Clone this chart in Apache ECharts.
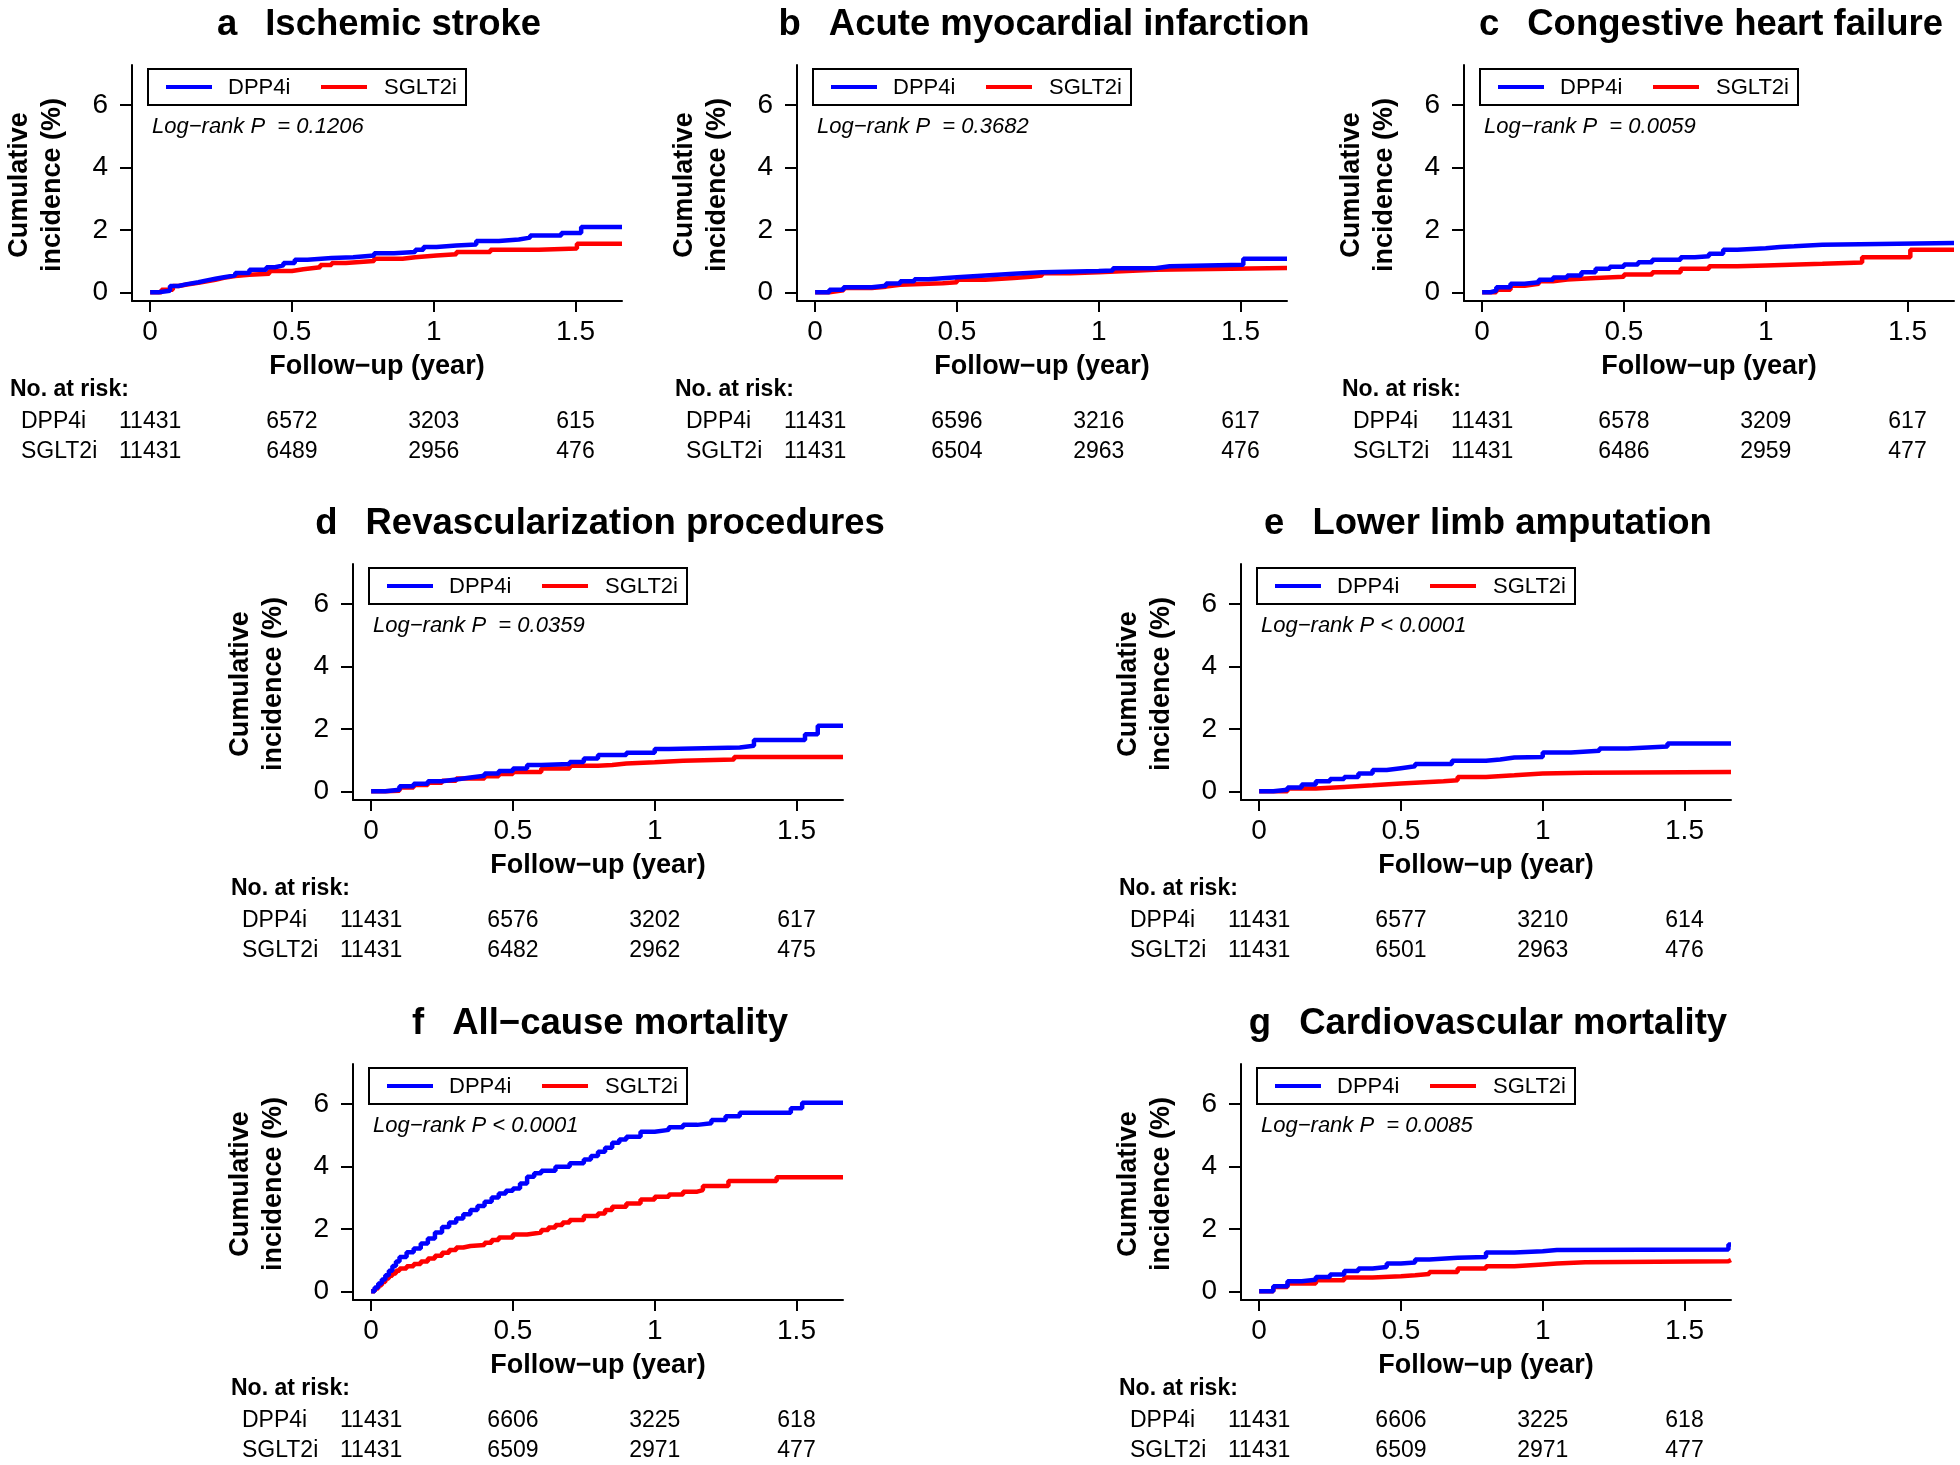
<!DOCTYPE html>
<html><head><meta charset="utf-8">
<script src="https://cdn.jsdelivr.net/npm/echarts@6/dist/echarts.min.js"></script>
<style>html,body{margin:0;padding:0;background:#fff}#c{width:1960px;height:1465px}</style>
</head><body><div id="c"></div>
<script>
// ---------------- data ----------------
const xTicks = [0, 0.5, 1, 1.5];
const yTicks = [0, 2, 4, 6];
const groups = ['DPP4i', 'SGLT2i'];
const letters = ['a', 'b', 'c', 'd', 'e', 'f', 'g'];
const outcomes = ['Ischemic stroke', 'Acute myocardial infarction', 'Congestive heart failure',
  'Revascularization procedures', 'Lower limb amputation', 'All\u2212cause mortality', 'Cardiovascular mortality'];
const logRank = ['Log\u2212rank P  = 0.1206', 'Log\u2212rank P  = 0.3682', 'Log\u2212rank P  = 0.0059',
  'Log\u2212rank P  = 0.0359', 'Log\u2212rank P < 0.0001', 'Log\u2212rank P < 0.0001', 'Log\u2212rank P  = 0.0085'];
const riskDPP4i = [[11431, 6572, 3203, 615], [11431, 6596, 3216, 617], [11431, 6578, 3209, 617],
  [11431, 6576, 3202, 617], [11431, 6577, 3210, 614], [11431, 6606, 3225, 618], [11431, 6606, 3225, 618]];
const riskSGLT2i = [[11431, 6489, 2956, 476], [11431, 6504, 2963, 476], [11431, 6486, 2959, 477],
  [11431, 6482, 2962, 475], [11431, 6501, 2963, 476], [11431, 6509, 2971, 477], [11431, 6509, 2971, 477]];

const strokeDPP4i = [[0,0],[0.03,0.05],[0.07,0.2],[0.1,0.26],[0.13,0.32],[0.17,0.38],[0.2,0.43],[0.23,0.48],[0.26,0.54],[0.3,0.62],[0.35,0.72],[0.41,0.8],[0.44,0.86],[0.47,0.94],[0.51,1.04],[0.555,1.1],[0.64,1.12],[0.716,1.18],[0.79,1.25],[0.86,1.29],[0.935,1.36],[0.964,1.45],[1.01,1.5],[1.08,1.53],[1.15,1.64],[1.23,1.69],[1.3,1.75],[1.34,1.82],[1.45,1.9],[1.52,2.09],[1.664,2.09]];
const strokeSGLT2i = [[0,0],[0.04,0.08],[0.08,0.2],[0.1,0.25],[0.13,0.3],[0.17,0.35],[0.2,0.4],[0.23,0.46],[0.26,0.52],[0.3,0.56],[0.35,0.59],[0.42,0.68],[0.5,0.74],[0.54,0.8],[0.6,0.87],[0.64,0.94],[0.69,1.0],[0.79,1.07],[0.89,1.12],[0.935,1.18],[1.01,1.22],[1.08,1.29],[1.2,1.36],[1.37,1.4],[1.505,1.55],[1.664,1.55]];
const amiDPP4i = [[0,0],[0.05,0.08],[0.1,0.16],[0.2,0.21],[0.25,0.28],[0.3,0.35],[0.35,0.42],[0.4,0.48],[0.5,0.54],[0.6,0.59],[0.7,0.64],[0.8,0.68],[1.0,0.7],[1.05,0.77],[1.2,0.83],[1.25,0.88],[1.51,1.07],[1.664,1.07]];
const amiSGLT2i = [[0,0],[0.05,0.06],[0.1,0.14],[0.2,0.18],[0.25,0.24],[0.3,0.29],[0.45,0.32],[0.5,0.4],[0.6,0.46],[0.7,0.5],[0.76,0.54],[0.8,0.61],[0.9,0.64],[1.0,0.68],[1.1,0.72],[1.2,0.78],[1.664,0.78]];
const chfDPP4i = [[0,0],[0.03,0.05],[0.05,0.16],[0.1,0.27],[0.15,0.32],[0.2,0.4],[0.25,0.47],[0.3,0.54],[0.35,0.64],[0.4,0.75],[0.45,0.82],[0.5,0.89],[0.55,0.96],[0.6,1.04],[0.7,1.12],[0.75,1.15],[0.8,1.23],[0.85,1.36],[0.9,1.41],[1.0,1.45],[1.05,1.47],[1.1,1.52],[1.2,1.58],[1.664,1.58]];
const chfSGLT2i = [[0,0],[0.05,0.08],[0.1,0.21],[0.15,0.27],[0.2,0.35],[0.25,0.41],[0.3,0.46],[0.4,0.5],[0.5,0.57],[0.6,0.64],[0.7,0.75],[0.8,0.83],[0.9,0.86],[1.0,0.91],[1.2,0.95],[1.34,1.12],[1.51,1.36],[1.664,1.36]];
const revascDPP4i = [[0,0],[0.05,0.05],[0.1,0.16],[0.15,0.24],[0.2,0.32],[0.25,0.38],[0.3,0.44],[0.35,0.5],[0.4,0.57],[0.45,0.65],[0.5,0.73],[0.55,0.84],[0.6,0.87],[0.7,0.94],[0.75,1.05],[0.8,1.16],[0.9,1.23],[1.0,1.35],[1.05,1.4],[1.3,1.46],[1.35,1.64],[1.53,1.83],[1.575,2.1],[1.664,2.1]];
const revascSGLT2i = [[0,0],[0.05,0.02],[0.1,0.12],[0.15,0.2],[0.2,0.27],[0.25,0.34],[0.3,0.41],[0.4,0.48],[0.45,0.55],[0.5,0.62],[0.6,0.73],[0.7,0.82],[0.8,0.84],[0.85,0.89],[0.9,0.93],[1.0,0.98],[1.1,1.02],[1.28,1.1],[1.664,1.1]];
const lleaDPP4i = [[0,0],[0.05,0.05],[0.1,0.12],[0.15,0.22],[0.2,0.32],[0.25,0.39],[0.3,0.46],[0.35,0.57],[0.4,0.68],[0.45,0.74],[0.5,0.8],[0.55,0.87],[0.68,0.98],[0.8,1.02],[0.85,1.08],[0.9,1.1],[1.0,1.24],[1.1,1.3],[1.2,1.37],[1.3,1.43],[1.44,1.53],[1.664,1.53]];
const lleaSGLT2i = [[0,0],[0.1,0.09],[0.2,0.14],[0.3,0.19],[0.4,0.25],[0.5,0.3],[0.6,0.32],[0.65,0.35],[0.7,0.46],[0.8,0.51],[0.9,0.57],[1.0,0.59],[1.15,0.62],[1.664,0.62]];
const acmDPP4i = [[0,0],[0.0125,0.12],[0.025,0.25],[0.0375,0.38],[0.05,0.51],[0.0625,0.66],[0.075,0.81],[0.0875,0.95],[0.1,1.1],[0.125,1.25],[0.15,1.37],[0.175,1.53],[0.2,1.69],[0.225,1.88],[0.25,2.06],[0.275,2.2],[0.3,2.33],[0.325,2.47],[0.35,2.6],[0.375,2.73],[0.4,2.87],[0.425,3.0],[0.45,3.13],[0.475,3.22],[0.5,3.29],[0.525,3.45],[0.55,3.67],[0.575,3.78],[0.6,3.86],[0.65,3.99],[0.7,4.1],[0.75,4.22],[0.775,4.33],[0.8,4.47],[0.825,4.6],[0.85,4.76],[0.875,4.86],[0.9,4.95],[0.95,5.11],[1.0,5.17],[1.05,5.25],[1.1,5.33],[1.15,5.38],[1.2,5.49],[1.25,5.61],[1.3,5.72],[1.48,5.86],[1.52,6.04],[1.664,6.04]];
const acmSGLT2i = [[0,0],[0.0125,0.09],[0.025,0.19],[0.0375,0.3],[0.05,0.41],[0.0625,0.5],[0.075,0.57],[0.0875,0.66],[0.1,0.73],[0.125,0.8],[0.15,0.87],[0.175,0.95],[0.2,1.05],[0.225,1.14],[0.25,1.23],[0.275,1.32],[0.3,1.4],[0.325,1.45],[0.35,1.48],[0.4,1.55],[0.425,1.64],[0.45,1.72],[0.5,1.82],[0.55,1.88],[0.6,1.96],[0.625,2.04],[0.65,2.12],[0.675,2.2],[0.7,2.28],[0.75,2.41],[0.8,2.49],[0.825,2.6],[0.85,2.71],[0.9,2.81],[0.95,2.94],[1.0,3.03],[1.05,3.1],[1.1,3.19],[1.15,3.24],[1.17,3.37],[1.26,3.53],[1.43,3.65],[1.664,3.65]];
const cvmDPP4i = [[0,0],[0.05,0.16],[0.1,0.32],[0.15,0.37],[0.2,0.46],[0.25,0.54],[0.3,0.65],[0.35,0.73],[0.4,0.78],[0.45,0.89],[0.5,0.92],[0.55,1.02],[0.6,1.07],[0.7,1.1],[0.8,1.24],[0.9,1.28],[1.0,1.32],[1.05,1.34],[1.655,1.5],[1.664,1.5]];
const cvmSGLT2i = [[0,0],[0.05,0.14],[0.1,0.25],[0.2,0.35],[0.3,0.44],[0.4,0.48],[0.5,0.51],[0.55,0.55],[0.6,0.62],[0.7,0.73],[0.8,0.8],[0.9,0.86],[1.0,0.89],[1.05,0.93],[1.15,0.96],[1.655,1.0],[1.664,1.0]];

const curvesDPP4i = [strokeDPP4i, amiDPP4i, chfDPP4i, revascDPP4i, lleaDPP4i, acmDPP4i, cvmDPP4i];
const curvesSGLT2i = [strokeSGLT2i, amiSGLT2i, chfSGLT2i, revascSGLT2i, lleaSGLT2i, acmSGLT2i, cvmSGLT2i];

// ---------------- layout ----------------
const FONT = '"Liberation Sans", Arial, Helvetica, sans-serif';
const BLUE = '#0000ff', RED = '#ff0000';
const panelPos = [[0, 0], [665, 0], [1332, 0], [221, 499], [1109, 499], [221, 999], [1109, 999]];
const G = { left: 132, top: 65, width: 490, height: 236 };
const XMIN = -0.064, XMAX = 1.664, YMIN = -0.28, YMAX = 7.28;

const chart = echarts.init(document.getElementById('c'), null, { renderer: 'canvas' });

const grids = [], xAxes = [], yAxes = [], series = [];
panelPos.forEach((p, i) => {
  grids.push({ left: G.left + p[0], top: G.top + p[1], width: G.width, height: G.height, containLabel: false });
  xAxes.push({
    type: 'value', gridIndex: i, min: XMIN, max: XMAX,
    axisLine: { show: true, onZero: false, lineStyle: { color: '#000', width: 2 } },
    axisTick: { show: true, customValues: xTicks, length: 11, lineStyle: { color: '#000', width: 2 } },
    axisLabel: { customValues: xTicks, color: '#000', fontSize: 28, fontFamily: FONT, margin: 17 },
    splitLine: { show: false }
  });
  yAxes.push({
    type: 'value', gridIndex: i, min: YMIN, max: YMAX,
    axisLine: { show: true, onZero: false, lineStyle: { color: '#000', width: 2 } },
    axisTick: { show: true, customValues: yTicks, length: 12, lineStyle: { color: '#000', width: 2 } },
    axisLabel: { customValues: yTicks, color: '#000', fontSize: 28, fontFamily: FONT, margin: 24 },
    splitLine: { show: false }
  });
  series.push({
    type: 'line', name: groups[1], xAxisIndex: i, yAxisIndex: i, data: curvesSGLT2i[i],
    step: 'end', showSymbol: false, symbol: 'none', lineStyle: { color: RED, width: 4.5 }, itemStyle: { color: RED }, z: 2
  });
  series.push({
    type: 'line', name: groups[0], xAxisIndex: i, yAxisIndex: i, data: curvesDPP4i[i],
    step: 'end', showSymbol: false, symbol: 'none', lineStyle: { color: BLUE, width: 4.5 }, itemStyle: { color: BLUE }, z: 3
  });
});

chart.setOption({
  backgroundColor: '#fff', animation: false,
  grid: grids, xAxis: xAxes, yAxis: yAxes, series: series
});

// ---------------- text / legend / risk table ----------------
const gfx = [];
function txt(x, y, text, size, opts) {
  opts = opts || {};
  gfx.push({
    type: 'text', x: x, y: y, rotation: opts.rotation || 0, z: 20,
    style: {
      text: text, fill: '#000', fontSize: size, fontFamily: FONT,
      fontWeight: opts.bold ? 'bold' : 'normal', fontStyle: opts.italic ? 'italic' : 'normal',
      align: opts.align || 'left', verticalAlign: 'middle', rich: opts.rich
    }
  });
}
panelPos.forEach((p, i) => {
  const dx = p[0], dy = p[1];
  const cx = G.left + dx + G.width / 2;
  // title
  txt(cx + 2, 25 + dy, letters[i] + '{s| }' + outcomes[i], 36.5, { bold: true, align: 'center', rich: { s: { width: 28, fontSize: 36.5 } } });
  // y label (two lines)
  const cy = G.top + dy + G.height / 2 + 2;
  txt(20 + dx, cy, 'Cumulative', 27, { bold: true, align: 'center', rotation: Math.PI / 2 });
  txt(53 + dx, cy, 'incidence (%)', 27, { bold: true, align: 'center', rotation: Math.PI / 2 });
  // x label
  txt(cx, 367 + dy, 'Follow\u2212up (year)', 27, { bold: true, align: 'center' });
  // legend box
  gfx.push({ type: 'rect', z: 15, shape: { x: 148 + dx, y: 69 + dy, width: 318, height: 36 },
    style: { fill: '#fff', stroke: '#000', lineWidth: 2 } });
  gfx.push({ type: 'line', z: 20, shape: { x1: 166 + dx, y1: 87 + dy, x2: 212 + dx, y2: 87 + dy }, style: { stroke: BLUE, lineWidth: 4 } });
  gfx.push({ type: 'line', z: 20, shape: { x1: 321 + dx, y1: 87 + dy, x2: 367 + dx, y2: 87 + dy }, style: { stroke: RED, lineWidth: 4 } });
  txt(228 + dx, 88 + dy, groups[0], 22);
  txt(384 + dx, 88 + dy, groups[1], 22);
  // log-rank
  txt(152 + dx, 127 + dy, logRank[i], 22, { italic: true });
  // risk table
  txt(10 + dx, 390 + dy, 'No. at risk:', 23, { bold: true });
  txt(21 + dx, 422 + dy, groups[0], 23);
  txt(21 + dx, 452 + dy, groups[1], 23);
  xTicks.forEach((t, k) => {
    const px = chart.convertToPixel({ xAxisIndex: i }, t);
    txt(px, 422 + dy, String(riskDPP4i[i][k]), 23, { align: 'center' });
    txt(px, 452 + dy, String(riskSGLT2i[i][k]), 23, { align: 'center' });
  });
});
chart.setOption({ graphic: gfx });
</script>
</body></html>
